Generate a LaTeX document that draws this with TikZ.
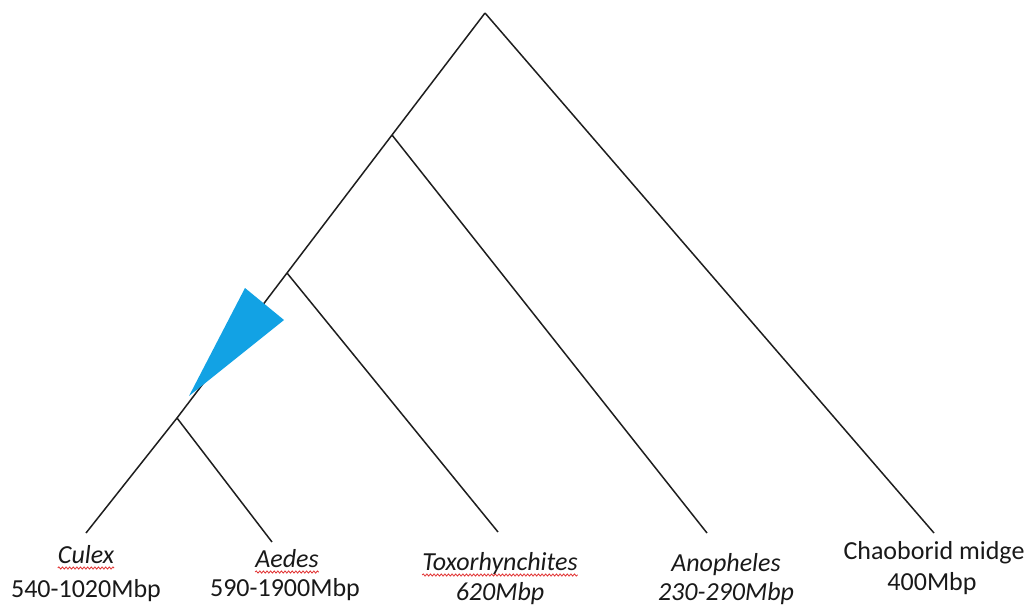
\documentclass[tikz,border=0pt]{standalone}
\usepackage{fontspec}
\setmainfont{Carlito}
\usetikzlibrary{decorations.pathmorphing}
\definecolor{branchcol}{RGB}{30,30,30}
\definecolor{cladefill}{RGB}{18,162,228}
\definecolor{spellred}{RGB}{225,50,50}
\newlength\chaowd
\begin{document}
\begin{tikzpicture}[x=1pt,y=-1pt,
  branch/.style={draw=branchcol,line width=1.5pt},
  taxon/.style={font=\fontsize{26}{31}\selectfont,text=black!90,inner sep=0pt,anchor=base},
  wavy/.style={draw=spellred,line width=0.8pt,decorate,
    decoration={snake,amplitude=1.1pt,segment length=3.6pt}}]
\useasboundingbox (0,0) rectangle (1027,605);

% branch points and tips
\coordinate (root) at (485,13);
\coordinate (n1) at (392,135);
\coordinate (n2) at (287,273);
\coordinate (n3) at (177,418);
\coordinate (tCulex) at (86,533);
\coordinate (tAedes) at (272,542);
\coordinate (tToxo) at (498,532);
\coordinate (tAnoph) at (707,533);
\coordinate (tChao) at (934,533);

% tree
\draw[branch] (root) -- (n1) -- (n2) -- (n3) -- (tCulex);
\draw[branch] (root) -- (tChao);
\draw[branch] (n1) -- (tAnoph);
\draw[branch] (n2) -- (tToxo);
\draw[branch] (n3) -- (tAedes);

% collapsed clade
\fill[cladefill] (245,288) -- (284,320) -- (189,396) -- cycle;

% taxon labels
\node[taxon] (culex) at (86,563) {\itshape Culex};
\node[taxon] (culexSize) at (86,597) {540-1020Mbp};
\node[taxon] (aedes) at (287,567) {\itshape Aedes};
\node[taxon] (aedesSize) at (285,596) {590-1900Mbp};
\node[taxon] (toxo) at (500,570) {\itshape Toxorhynchites};
\node[taxon] (toxoSize) at (500,600) {\itshape 620Mbp};
\node[taxon] (anoph) at (726,571) {\itshape Anopheles};
\node[taxon] (anophSize) at (726,600) {\itshape 230-290Mbp};
\node[taxon] (chao) at (934,559) {Chaoborid midge};
\node[taxon] (chaoSize) at (932,590) {400Mbp};

% spell-check underlines
\settowidth\chaowd{\fontsize{26}{31}\selectfont Chaoborid}
\draw[wavy] ([yshift=-5pt]culex.base west) -- ([yshift=-5pt]culex.base east);
\draw[wavy] ([yshift=-5pt]aedes.base west) -- ([yshift=-5pt]aedes.base east);
\draw[wavy] ([yshift=-5pt]toxo.base west) -- ([yshift=-5pt]toxo.base east);
\draw[wavy] ([yshift=-5pt]chao.base west) -- ([yshift=-5pt,xshift=\chaowd]chao.base west);
\end{tikzpicture}
\end{document}
